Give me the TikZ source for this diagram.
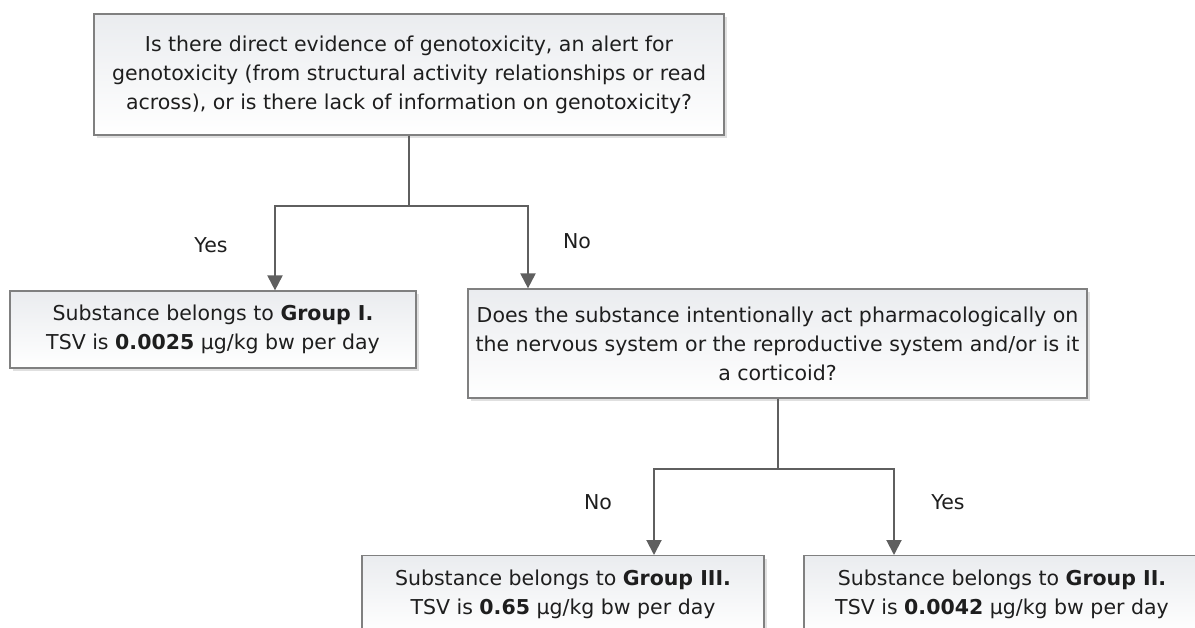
\documentclass[tikz,border=0pt]{standalone}
\usepackage{fontspec}
\setmainfont{DejaVu Sans}
\usepackage{xcolor}
\usepackage{tikz}
\usetikzlibrary{arrows.meta,shadows}

\definecolor{boxline}{RGB}{128,128,128}
\definecolor{boxtop}{RGB}{234,236,239}
\definecolor{flowline}{RGB}{95,95,95}
\definecolor{inkgray}{RGB}{30,30,30}

\tikzset{
  qbox/.style={draw=boxline, line width=1.2pt, shading=axis, top color=boxtop,
    bottom color=white, align=center, inner sep=2pt, text=inkgray,
    drop shadow={shadow xshift=3pt, shadow yshift=-3pt, fill=black!12, opacity=1},
    font=\fontsize{20.5}{29}\selectfont},
  flow/.style={draw=flowline, line width=2pt, -{Triangle[length=15pt,width=15pt]}},
  lbl/.style={text=inkgray, font=\fontsize{20.5}{29}\selectfont}
}

\begin{document}
\begin{tikzpicture}[x=1pt,y=-1pt]
        \useasboundingbox (0,0) rectangle (1195,628);
        \clip (0,0) rectangle (1195,628);

        % Questions
        \node[qbox, minimum width=630pt, minimum height=121pt] (q1) at (409,74.5)
          {Is there direct evidence of genotoxicity, an alert for\\
           genotoxicity (from structural activity relationships or read\\
           across), or is there lack of information on genotoxicity?};
        \node[qbox, minimum width=619pt, minimum height=109pt] (q2) at (777.5,343.5)
          {Does the substance intentionally act pharmacologically on\\
           the nervous system or the reproductive system and/or is it\\
           a corticoid?};

        % Groups
        \node[qbox, minimum width=406pt, minimum height=77pt] (g1) at (213,329.5)
          {Substance belongs to \textbf{Group I.}\\
           TSV is \textbf{0.0025} µg/kg bw per day};
        \node[qbox, minimum width=402pt, minimum height=78pt, anchor=north] (g3) at (563,555)
          {Substance belongs to \textbf{Group III.}\\
           TSV is \textbf{0.65} µg/kg bw per day};
        \node[qbox, minimum width=396pt, minimum height=78pt, anchor=north] (g2) at (1002,555)
          {Substance belongs to \textbf{Group II.}\\
           TSV is \textbf{0.0042} µg/kg bw per day};

        % arrows
        \draw[flow] (q1.south) -- ++(0,70) -| ([xshift=62pt]g1.north);
        \draw[flow] (q1.south) -- ++(0,70) -| ([xshift=-249.5pt]q2.north);
        \draw[flow] (q2.south) -- ++(0,70) -| ([xshift=91pt]g3.north);
        \draw[flow] (q2.south) -- ++(0,70) -| ([xshift=-108pt]g2.north);

        % yeses and nos
        \node[lbl] (yes1) at (211,245) {Yes};
        \node[lbl] (no1) at (577,241) {No};
        \node[lbl] (no2) at (598,502) {No};
        \node[lbl] (yes2) at (948,502) {Yes};
\end{tikzpicture}
\end{document}
